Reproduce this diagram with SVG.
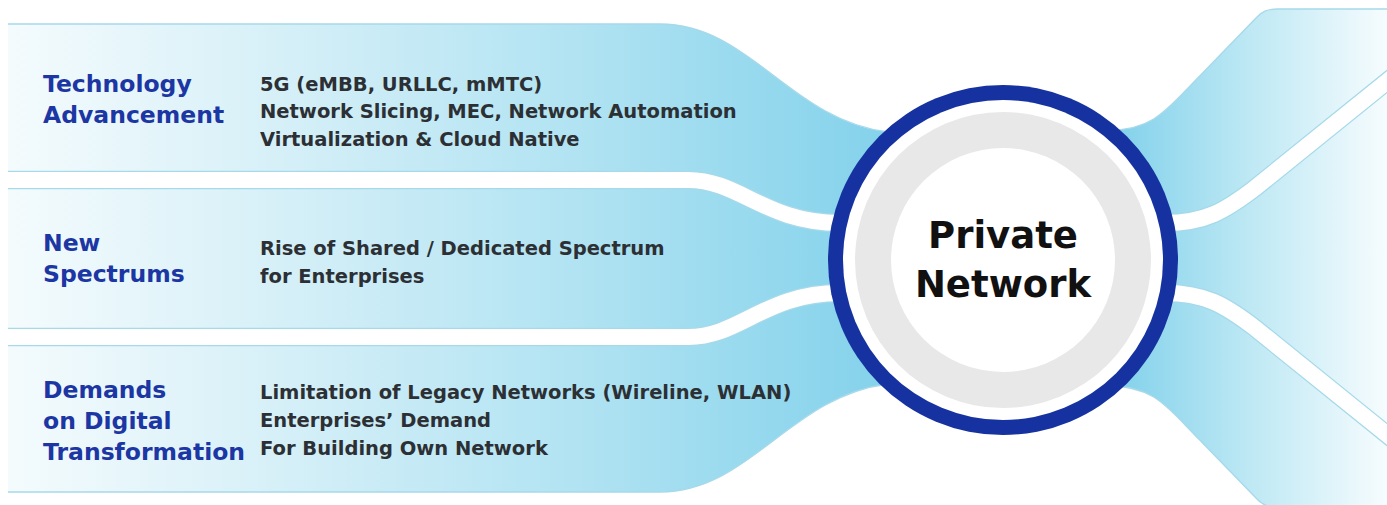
<svg xmlns="http://www.w3.org/2000/svg" width="1387" height="505" viewBox="0 0 1387 505">
  <defs>
    <linearGradient id="gLeft" gradientUnits="userSpaceOnUse" x1="8" y1="0" x2="885" y2="0">
      <stop offset="0" stop-color="#f4fbfd"/>
      <stop offset="0.3" stop-color="#d7f0f8"/>
      <stop offset="0.65" stop-color="#b1e3f2"/>
      <stop offset="1" stop-color="#84d2eb"/>
    </linearGradient>
    <linearGradient id="gRight" gradientUnits="userSpaceOnUse" x1="1110" y1="0" x2="1387" y2="0">
      <stop offset="0" stop-color="#7fd0ea"/>
      <stop offset="0.5" stop-color="#bde8f4"/>
      <stop offset="1" stop-color="#f6fcfe"/>
    </linearGradient>
    <style>
      .edge { fill: none; stroke: #a6d9ea; stroke-width: 1.3; }
      .gapEdge { fill: none; stroke: #a6d9ea; stroke-width: 18.5; }
      .gap { fill: none; stroke: #ffffff; stroke-width: 16; }
      .head { font-family: "DejaVu Sans", "Liberation Sans", sans-serif; font-weight: bold; font-size: 23.5px; fill: #1c36a4; }
      .desc { font-family: "DejaVu Sans", "Liberation Sans", sans-serif; font-weight: bold; font-size: 19.5px; fill: #2c3035; }
      .center { font-family: "DejaVu Sans", "Liberation Sans", sans-serif; font-weight: bold; font-size: 37px; fill: #111111; text-anchor: middle; }
    </style>
  </defs>

  <rect width="1387" height="505" fill="#ffffff"/>

  <g id="connectors">
    <!-- left flow -->
    <path d="M8,24 H660 C750,24 790,120 888,132 L1003,132 V384 L888,384 C790,396 750,492 660,492 H8 Z" fill="url(#gLeft)"/>
    <path class="edge" d="M8,24 H660 C750,24 790,120 888,132"/>
    <path class="edge" d="M8,492 H660 C750,492 790,396 888,384"/>
    <!-- right flow -->
    <path d="M1003,130 H1110 C1150,130 1165,112 1190,86 L1256,18 C1262,11 1268,9 1278,9 H1387 V507 H1278 C1268,507 1262,505 1256,498 L1190,430 C1165,404 1150,386 1110,386 H1003 Z" fill="url(#gRight)"/>
    <path class="edge" d="M1110,130 C1150,130 1165,112 1190,86 L1256,18 C1262,11 1268,9 1278,9 H1387"/>
    <path class="edge" d="M1110,386 C1150,386 1165,404 1190,430 L1256,498 C1262,505 1268,507 1278,507 H1387"/>
    <!-- gaps left -->
    <path class="gapEdge" d="M8,180 H688 C740,180 765,223 840,223 H1003"/>
    <path class="gapEdge" d="M8,337 H688 C740,337 765,293 840,293 H1003"/>
    <!-- gaps right -->
    <path class="gapEdge" d="M1003,223 H1165 C1205,223 1225,211 1255,188 L1395,75"/>
    <path class="gapEdge" d="M1003,293 H1165 C1205,293 1225,305 1255,328 L1395,441"/>
    <path class="gap" d="M8,180 H688 C740,180 765,223 840,223 H1003"/>
    <path class="gap" d="M8,337 H688 C740,337 765,293 840,293 H1003"/>
    <path class="gap" d="M1003,223 H1165 C1205,223 1225,211 1255,188 L1395,75"/>
    <path class="gap" d="M1003,293 H1165 C1205,293 1225,305 1255,328 L1395,441"/>
  </g>

  <g id="node-private-network">
    <circle cx="1003" cy="260" r="175" fill="#1532a0"/>
    <circle cx="1003" cy="260" r="160" fill="#ffffff"/>
    <circle cx="1003" cy="260" r="148" fill="#e8e8e8"/>
    <circle cx="1003" cy="260" r="112" fill="#ffffff"/>
    <text class="center" x="1003" y="248">Private</text>
    <text class="center" x="1003" y="297">Network</text>
  </g>

  <g id="node-technology">
    <text class="head" x="43" y="92">Technology</text>
    <text class="head" x="43" y="123">Advancement</text>
    <text class="desc" x="260" y="91">5G (eMBB, URLLC, mMTC)</text>
    <text class="desc" x="260" y="118">Network Slicing, MEC, Network Automation</text>
    <text class="desc" x="260" y="146">Virtualization &amp; Cloud Native</text>
  </g>

  <g id="node-spectrums">
    <text class="head" x="43" y="251">New</text>
    <text class="head" x="43" y="282">Spectrums</text>
    <text class="desc" x="260" y="255">Rise of Shared / Dedicated Spectrum</text>
    <text class="desc" x="260" y="283">for Enterprises</text>
  </g>

  <g id="node-digital">
    <text class="head" x="43" y="398">Demands</text>
    <text class="head" x="43" y="429">on Digital</text>
    <text class="head" x="43" y="460">Transformation</text>
    <text class="desc" x="260" y="399">Limitation of Legacy Networks (Wireline, WLAN)</text>
    <text class="desc" x="260" y="427">Enterprises’ Demand</text>
    <text class="desc" x="260" y="455">For Building Own Network</text>
  </g>
</svg>
